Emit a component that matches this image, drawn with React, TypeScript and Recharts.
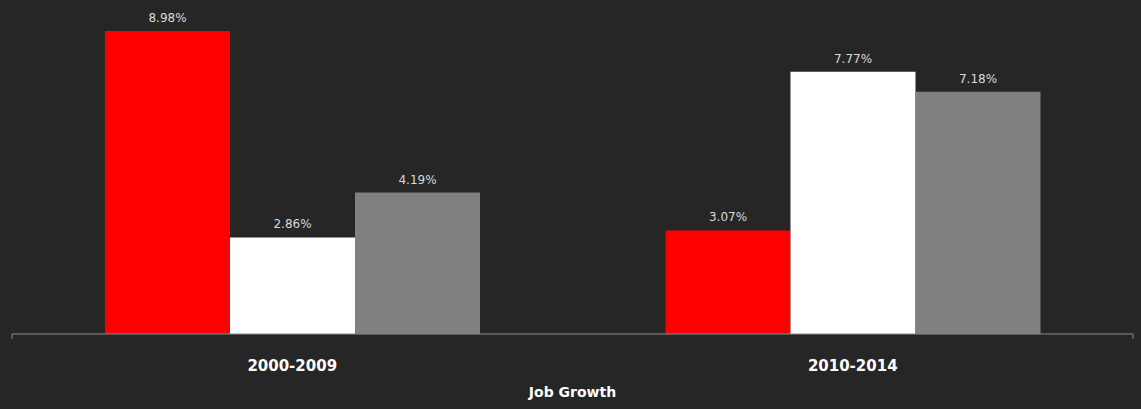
import React from 'react';
import { BarChart, Bar, XAxis, YAxis, LabelList } from 'recharts';

const categories = ['2000-2009', '2010-2014'];
const seriesA = [8.98, 3.07];
const seriesB = [2.86, 7.77];
const seriesC = [4.19, 7.18];
const boundaryTicks = [0, 1, 2];

const data = categories.map((c, i) => ({ name: c, a: seriesA[i], b: seriesB[i], c: seriesC[i] }));

const fmt = (v: number) => `${v.toFixed(2)}%`;
const labelStyle = { fill: '#d9d9d9', fontSize: 12, fontFamily: '"DejaVu Sans", sans-serif' };

export default function App() {
  return (
    <div style={{ position: 'absolute', left: 0, top: 0, width: 1141, height: 409, background: '#262626' }}>
      <BarChart
        width={1141}
        height={409}
        data={data}
        margin={{ top: 31, right: 8, left: 12, bottom: 4 }}
        barGap={0}
        barCategoryGap={93}
      >
        <XAxis
          xAxisId="b-cat"
          dataKey="name"
          axisLine={false}
          tickLine={false}
          tickSize={0}
          tickMargin={25}
          height={70}
          tick={{ fill: '#ffffff', fontSize: 15, fontWeight: 700, fontFamily: '"DejaVu Sans", sans-serif' }}
          label={{ value: 'Job Growth', position: 'insideBottom', offset: 8, fill: '#ffffff', fontSize: 14, fontWeight: 700, fontFamily: '"DejaVu Sans", sans-serif' }}
        />
        <XAxis
          xAxisId="a-edge"
          type="number"
          domain={[0, categories.length]}
          ticks={boundaryTicks}
          allowDataOverflow
          interval={0}
          tickFormatter={() => ''}
          tickSize={5}
          stroke="#8a8a8a"
          tickLine={{ stroke: '#8a8a8a' }}
          height={1}
        />
        <YAxis hide domain={[0, 'dataMax']} />
        <Bar xAxisId="b-cat" dataKey="a" fill="#ff0000" isAnimationActive={false}>
          <LabelList dataKey="a" position="top" offset={9} formatter={fmt} style={labelStyle} />
        </Bar>
        <Bar xAxisId="b-cat" dataKey="b" fill="#ffffff" isAnimationActive={false}>
          <LabelList dataKey="b" position="top" offset={9} formatter={fmt} style={labelStyle} />
        </Bar>
        <Bar xAxisId="b-cat" dataKey="c" fill="#808080" isAnimationActive={false}>
          <LabelList dataKey="c" position="top" offset={9} formatter={fmt} style={labelStyle} />
        </Bar>
      </BarChart>
    </div>
  );
}
